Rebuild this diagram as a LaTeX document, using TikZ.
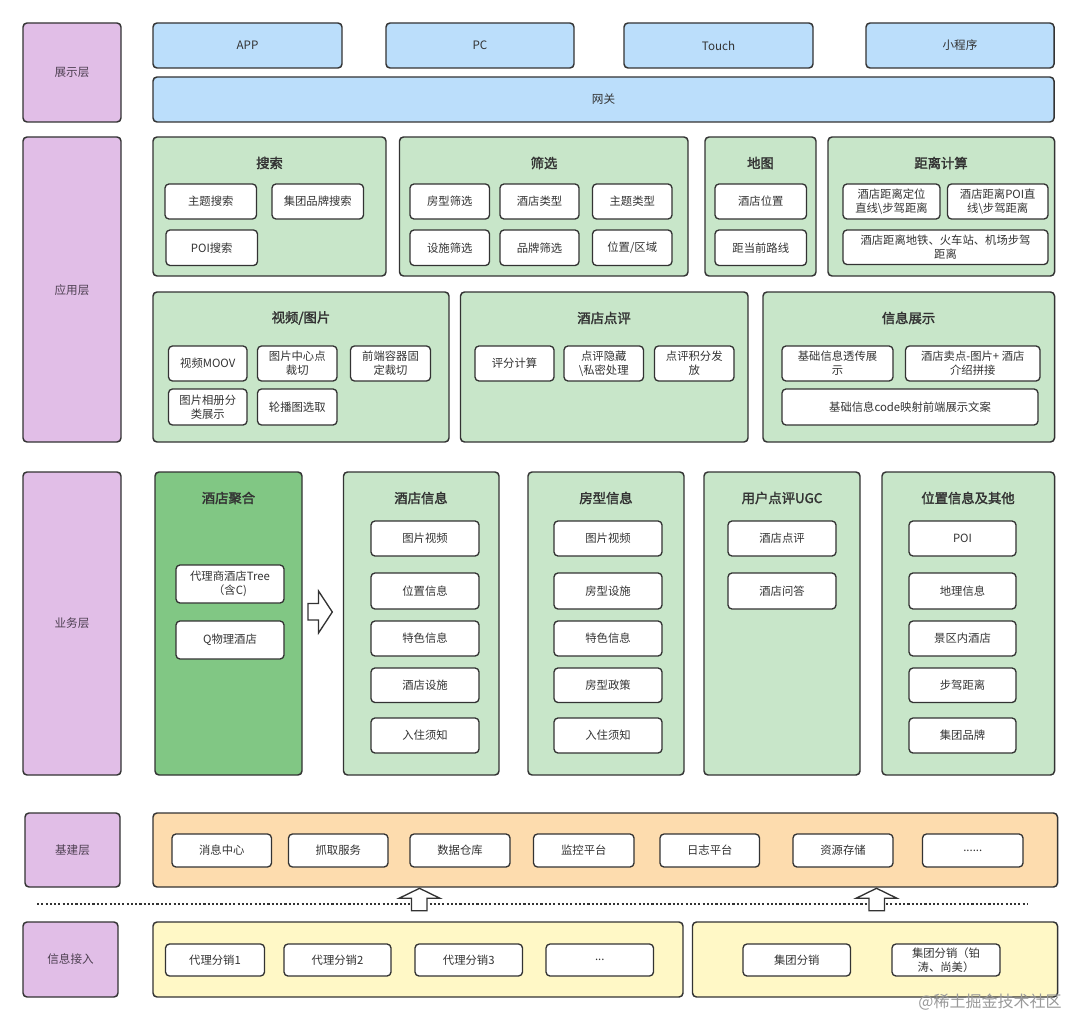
\documentclass[tikz,border=0pt]{standalone}
\usepackage{fontspec}
\setmainfont{Noto Sans CJK SC}[AutoFakeBold=2]
\definecolor{lav}{HTML}{E1BEE7}
\definecolor{blu}{HTML}{BBDEFB}
\definecolor{grn}{HTML}{C8E6C9}
\definecolor{dgrn}{HTML}{81C784}
\definecolor{org}{HTML}{FDDCAE}
\definecolor{yel}{HTML}{FFF8C6}
\definecolor{bord}{HTML}{333333}
\definecolor{txt}{HTML}{333333}
\definecolor{laytxt}{HTML}{4E4052}
\newcommand\bx[7]{\node[#6, minimum width={(#4-#2)*0.75pt}, minimum height={(#5-#3)*0.75pt}] (#1) at ({(#2+#4)/2},{(#3+#5)/2}) {#7};}
\begin{document}
\begin{tikzpicture}[x=0.75pt,y=-0.75pt,
  base/.style={draw=bord, rounded corners=3pt, line width=1.1pt, inner sep=0pt, outer sep=0pt, text=txt, align=center},
  lay/.style={base, fill=lav, text=laytxt, font=\fontsize{8.7}{10}\selectfont},
  blubox/.style={base, fill=blu, font=\fontsize{8.7}{10}\selectfont},
  grp/.style={base, fill=grn},
  dgrp/.style={base, fill=dgrn},
  orgbox/.style={base, fill=org},
  yelbox/.style={base, fill=yel},
  item/.style={base, fill=white, line width=1pt, font=\fontsize{8.5}{10.5}\selectfont},
  ttl/.style={text=txt, inner sep=0pt, font=\bfseries\fontsize{10}{12}\selectfont},
  blockarrow/.style={draw=bord, fill=white, line width=1pt, line join=miter}
]
\useasboundingbox (0,0) rectangle (1080,1020);

% ===== 展示层 =====
\bx{lshow}{23}{23}{121}{122}{lay}{展示层}
\bx{app}{153}{23}{342}{68}{blubox}{APP}
\bx{pc}{386}{23}{574}{68}{blubox}{PC}
\bx{touch}{624}{23}{813}{68}{blubox}{Touch}
\bx{mini}{866}{23}{1054}{68}{blubox}{小程序}
\bx{gw}{153}{77}{1054}{122}{blubox}{网关}

% ===== 应用层 =====
\bx{lapp}{23}{137}{121}{442}{lay}{}
\node[text=laytxt, font=\fontsize{8.7}{10}\selectfont] (lappt) at (72,290) {应用层};

\bx{search}{153}{137}{386}{276}{grp}{}
\node[ttl] (searcht) at (269.5,163) {搜索};
\bx{s1}{165}{184}{256.5}{219}{item}{主题搜索}
\bx{s2}{272}{184}{363.5}{219}{item}{集团品牌搜索}
\bx{s3}{166}{230}{257.5}{265.5}{item}{POI搜索}

\bx{filter}{399.5}{137}{688}{276}{grp}{}
\node[ttl] (filtert) at (544,163) {筛选};
\bx{f1}{410}{184}{489.5}{219}{item}{房型筛选}
\bx{f2}{500}{184}{579}{219}{item}{酒店类型}
\bx{f3}{592.5}{184}{672}{219}{item}{主题类型}
\bx{f4}{410}{230}{489.5}{265.5}{item}{设施筛选}
\bx{f5}{500}{230}{579}{265.5}{item}{品牌筛选}
\bx{f6}{592.5}{230}{672}{265.5}{item}{位置/区域}

\bx{map}{705}{137}{816}{276}{grp}{}
\node[ttl] (mapt) at (760.5,163) {地图};
\bx{m1}{715}{184}{806.5}{219}{item}{酒店位置}
\bx{m2}{715}{230}{806.5}{265.5}{item}{距当前路线}

\bx{dist}{828}{137}{1054.5}{276}{grp}{}
\node[ttl] (distt) at (941,163) {距离计算};
\bx{d1}{843}{184}{940}{219}{item}{酒店距离定位\\直线\textbackslash 步驾距离}
\bx{d2}{947.5}{184}{1048}{219}{item}{酒店距离POI直\\线\textbackslash 步驾距离}
\bx{d3}{843}{230}{1048}{264.5}{item}{酒店距离地铁、火车站、机场步驾\\距离}

\bx{video}{153}{292}{449}{442}{grp}{}
\node[ttl] (videot) at (301,318) {视频/图片};
\bx{v1}{168.5}{346}{247}{381}{item}{视频MOOV}
\bx{v2}{257.5}{346}{337}{381}{item}{图片中心点\\裁切}
\bx{v3}{350.5}{346}{430.5}{381}{item}{前端容器固\\定裁切}
\bx{v4}{168.5}{389}{247}{425}{item}{图片相册分\\类展示}
\bx{v5}{257.5}{389}{337}{425}{item}{轮播图选取}

\bx{review}{460.5}{292}{748}{442}{grp}{}
\node[ttl] (reviewt) at (604,318) {酒店点评};
\bx{r1}{475}{346}{554}{381}{item}{评分计算}
\bx{r2}{564}{346}{643.5}{381}{item}{点评隐藏\\\textbackslash 私密处理}
\bx{r3}{654.5}{346}{734}{381}{item}{点评积分发\\放}

\bx{info}{763}{292}{1054.5}{442}{grp}{}
\node[ttl] (infot) at (908.5,318) {信息展示};
\bx{i1}{782}{346}{893}{381}{item}{基础信息透传展\\示}
\bx{i2}{905.5}{346}{1040}{381}{item}{酒店卖点-图片+ 酒店\\介绍拼接}
\bx{i3}{782}{389}{1038}{425}{item}{基础信息code映射前端展示文案}

% ===== 业务层 =====
\bx{lbiz}{23}{472}{121}{775}{lay}{业务层}

\bx{agg}{155}{472}{302}{775}{dgrp}{}
\node[ttl] (aggt) at (228.5,498) {酒店聚合};
\bx{a1}{176}{565}{284}{603}{item}{代理商酒店Tree\\（含C)}
\bx{a2}{176}{621}{284}{659}{item}{Q物理酒店}

\bx{hotel}{343.5}{472}{499}{775}{grp}{}
\node[ttl] (hotelt) at (421,498) {酒店信息};
\bx{h1}{371}{521}{479}{556}{item}{图片视频}
\bx{h2}{371}{573}{479}{609}{item}{位置信息}
\bx{h3}{371}{621}{479}{656}{item}{特色信息}
\bx{h4}{371}{668}{479}{702.5}{item}{酒店设施}
\bx{h5}{371}{718}{479}{753}{item}{入住须知}

\bx{room}{528}{472}{684}{775}{grp}{}
\node[ttl] (roomt) at (606,498) {房型信息};
\bx{o1}{554}{521}{662}{556}{item}{图片视频}
\bx{o2}{554}{573}{662}{609}{item}{房型设施}
\bx{o3}{554}{621}{662}{656}{item}{特色信息}
\bx{o4}{554}{668}{662}{702.5}{item}{房型政策}
\bx{o5}{554}{718}{662}{753}{item}{入住须知}

\bx{ugc}{704}{472}{860}{775}{grp}{}
\node[ttl] (ugct) at (782,498) {用户点评UGC};
\bx{u1}{728}{521}{836}{556}{item}{酒店点评}
\bx{u2}{728}{573}{836}{609}{item}{酒店问答}

\bx{loc}{882}{472}{1054.5}{775}{grp}{}
\node[ttl] (loct) at (968,498) {位置信息及其他};
\bx{p1}{909}{521}{1016}{556}{item}{POI}
\bx{p2}{909}{573}{1016}{609}{item}{地理信息}
\bx{p3}{909}{621}{1016}{656}{item}{景区内酒店}
\bx{p4}{909}{668}{1016}{702.5}{item}{步驾距离}
\bx{p5}{909}{718}{1016}{753}{item}{集团品牌}

% right block arrow (agg -> hotel)
\draw[blockarrow] (308,603.5) -- (318.5,603.5) -- (318.5,591) -- (332.3,612) -- (318.5,633) -- (318.5,620) -- (308,620) -- cycle;

% ===== 基建层 =====
\bx{linfra}{25}{813}{120}{887}{lay}{基建层}
\bx{infra}{153}{813}{1057.5}{887}{orgbox}{}
\bx{b1}{172}{834}{271.5}{867}{item}{消息中心}
\bx{b2}{288.5}{834}{388}{867}{item}{抓取服务}
\bx{b3}{410}{834}{510}{867}{item}{数据仓库}
\bx{b4}{533.5}{834}{634}{867}{item}{监控平台}
\bx{b5}{660}{834}{759.5}{867}{item}{日志平台}
\bx{b6}{793}{834}{893}{867}{item}{资源存储}
\bx{b7}{922.5}{834}{1023}{867}{item}{......}

% dotted separator
\coordinate (dl) at (37,904);
\coordinate (dr) at (1027,904);
\draw[bord, line width=1.1pt, dash pattern=on 1.6pt off 1.6pt] (dl) -- (dr);

% up block arrows
\draw[blockarrow] (411.5,910.7) -- (411.5,898.3) -- (399,898.3) -- (419.5,888.3) -- (440,898.3) -- (427,898.3) -- (427,910.7) -- cycle;
\draw[blockarrow] (869,910.7) -- (869,898.3) -- (856,898.3) -- (876.5,888.3) -- (897,898.3) -- (884.5,898.3) -- (884.5,910.7) -- cycle;

% ===== 信息接入 =====
\bx{lin}{23}{922}{118}{997}{lay}{信息接入}
\bx{in1}{153}{922}{683}{997}{yelbox}{}
\bx{c1}{165.5}{944}{264.5}{976}{item}{代理分销1}
\bx{c2}{284}{944}{391}{976}{item}{代理分销2}
\bx{c3}{415}{944}{522.5}{976}{item}{代理分销3}
\bx{c4}{546}{944}{653.5}{976}{item}{...}
\bx{in2}{692.5}{922}{1057.5}{997}{yelbox}{}
\bx{g1}{743}{944}{850.5}{976}{item}{集团分销}
\bx{g2}{892}{944}{1000}{976}{item}{集团分销（铂\\涛、尚美）}

% watermark
\node[text=black!40, inner sep=0pt, font=\fontsize{12}{14}\selectfont] (wm) at (990,1002) {@稀土掘金技术社区};
\end{tikzpicture}
\end{document}
